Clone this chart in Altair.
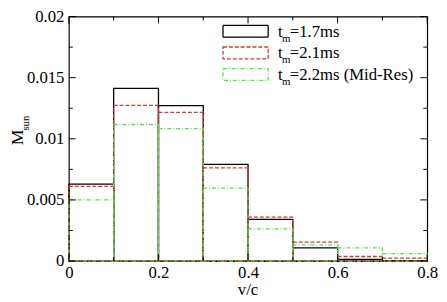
import altair as alt
import pandas as pd

# ---- data ----
bin_start = [0.0, 0.1, 0.2, 0.3, 0.4, 0.5, 0.6, 0.7]
bin_end = [0.1, 0.2, 0.3, 0.4, 0.5, 0.6, 0.7, 0.8]
m_17 = [0.0063, 0.01412, 0.01271, 0.00791, 0.00341, 0.00107, 0.00013, 0.00003]
m_21 = [0.0061, 0.01273, 0.01216, 0.00763, 0.00359, 0.00154, 0.00037, 0.00023]
m_22 = [0.0050, 0.01117, 0.01084, 0.00596, 0.00263, 0.00133, 0.00107, 0.00060]
legend_rest = ["=1.7ms", "=2.1ms", "=2.2ms (Mid-Res)"]
x_major = [0, 0.2, 0.4, 0.6, 0.8]
x_minor = [0.1, 0.3, 0.5, 0.7]
y_major = [0, 0.005, 0.01, 0.015, 0.02]
y_minor = [0.0025, 0.0075, 0.0125, 0.0175]

W, H = 365, 249
FONT = "Liberation Serif"
colors = ["#000000", "#c83c3c", "#55dd55"]
dashes = [[1, 0], [4, 2], [4, 2, 1, 2]]
series = [m_17, m_21, m_22]

xscale = alt.Scale(domain=[0, 0.8], nice=False, zero=False)
yscale = alt.Scale(domain=[0, 0.02], nice=False, zero=False)
xaxis = alt.Axis(values=x_major, format="~g", ticks=False, domain=False,
                 grid=False, title=None, labelFlush=False,
                 labelFont=FONT, labelFontSize=17, labelColor="black",
                 labelPadding=4)
yaxis = alt.Axis(values=y_major, format="~g", ticks=False, domain=False,
                 grid=False, title=None, labelFont=FONT, labelFontSize=17,
                 labelColor="black", labelPadding=5)

layers = []
for i, (vals, col, dash) in enumerate(zip(series, colors, dashes)):
    df = pd.DataFrame({"start": bin_start, "end": bin_end, "value": vals})
    layers.append(
        alt.Chart(df).mark_rect(fillOpacity=0, stroke=col, strokeWidth=1.3, strokeDash=dash)
        .encode(x=alt.X("start:Q", scale=xscale, axis=xaxis), x2="end:Q",
                y=alt.Y("value:Q", scale=yscale, axis=yaxis), y2=alt.datum(0))
    )

def tick_layer(vals, orient, length):
    df = pd.DataFrame({"v": vals})
    m = alt.Chart(df).mark_rule(color="black", strokeWidth=1)
    if orient in ("bottom", "top"):
        y0 = H if orient == "bottom" else 0
        y1 = H - length if orient == "bottom" else length
        return m.encode(x=alt.X("v:Q", scale=xscale, axis=xaxis), y=alt.value(y0), y2=alt.value(y1))
    x0 = 0 if orient == "left" else W
    x1 = length if orient == "left" else W - length
    return m.encode(y=alt.Y("v:Q", scale=yscale, axis=yaxis), x=alt.value(x0), x2=alt.value(x1))

for o in ("bottom", "top"):
    layers.append(tick_layer(x_major, o, 7))
    layers.append(tick_layer(x_minor, o, 4))
for o in ("left", "right"):
    layers.append(tick_layer(y_major, o, 7))
    layers.append(tick_layer(y_minor, o, 4))

one = pd.DataFrame({"a": [0]})

def txt(s, x, y, size, angle=0, align="left"):
    return alt.Chart(one).mark_text(text=s, font=FONT, fontSize=size, color="black",
                                    align=align, baseline="alphabetic", angle=angle).encode(
        x=alt.value(x), y=alt.value(y))

# legend
for i, (col, dash, rest) in enumerate(zip(colors, dashes, legend_rest)):
    y0 = 9 + 22 * i
    layers.append(
        alt.Chart(one).mark_rect(fillOpacity=0, stroke=col, strokeWidth=1.3, strokeDash=dash)
        .encode(x=alt.value(157), x2=alt.value(203), y=alt.value(y0), y2=alt.value(y0 + 12))
    )
    base = 20.7 + 22 * i
    layers.append(txt("t", 213, base, 17))
    layers.append(txt("m", 217, base + 5, 11))
    layers.append(txt(rest, 225, base, 17))

# axis titles
layers.append(txt("v/c", W / 2, 284, 17, align="center"))
layers.append(txt("M", -47, 123, 18, angle=270, align="center"))
layers.append(txt("sun", -41, 108.5, 11, angle=270, align="center"))

chart = alt.layer(*layers).properties(
    width=W, height=H,
    autosize=alt.AutoSizeParams(type="none"),
    padding={"left": 62, "top": 6, "right": 12, "bottom": 39},
).configure_view(stroke="black", strokeWidth=1.2).configure_axis(
    labelFont=FONT, labelFontSize=17, labelColor="black"
)

chart.save("out.html", embed_options={"renderer": "svg", "actions": False})
